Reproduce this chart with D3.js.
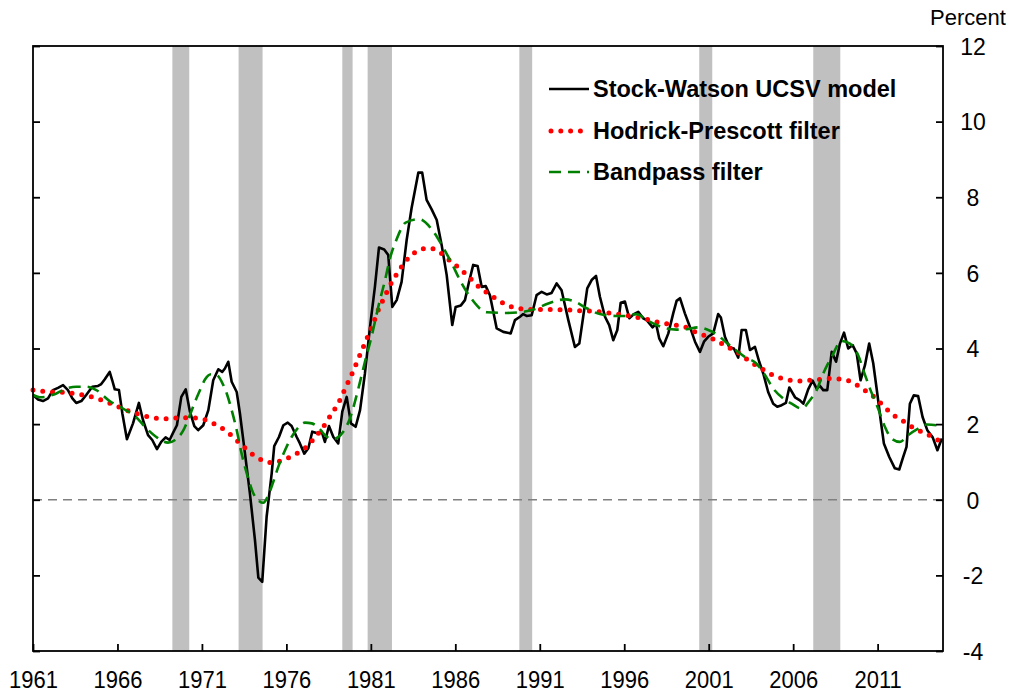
<!DOCTYPE html>
<html>
<head>
<meta charset="utf-8">
<script src="https://cdn.jsdelivr.net/npm/d3@7/dist/d3.min.js"></script>
<style>
  body { margin: 0; background: #fff; }
  svg text { font-family: "Liberation Sans", Arial, sans-serif; fill: #000; }
</style>
</head>
<body>
<svg id="chart" width="1013" height="694"></svg>
<script>
// ---- data ----
const ucsvYears = [1961.00,1961.30,1961.59,1961.89,1962.18,1962.48,1962.78,1963.07,1963.33,1963.56,1963.86,1964.15,1964.51,1964.85,1965.04,1965.24,1965.54,1965.69,1965.84,1966.09,1966.29,1966.56,1966.92,1967.27,1967.51,1967.81,1968.06,1968.34,1968.59,1968.85,1969.09,1969.29,1969.52,1969.78,1970.04,1970.29,1970.55,1970.78,1971.08,1971.38,1971.67,1971.97,1972.20,1972.36,1972.56,1972.76,1973.06,1973.25,1973.55,1973.84,1974.14,1974.34,1974.57,1974.83,1975.13,1975.28,1975.56,1975.82,1976.08,1976.31,1976.61,1976.80,1977.06,1977.30,1977.53,1977.89,1978.09,1978.28,1978.52,1978.78,1979.07,1979.31,1979.57,1979.82,1980.10,1980.36,1980.65,1980.95,1981.24,1981.48,1981.79,1982.03,1982.27,1982.53,1982.82,1983.12,1983.41,1983.81,1984.04,1984.30,1984.60,1984.90,1985.19,1985.49,1985.82,1986.02,1986.33,1986.57,1986.81,1987.06,1987.32,1987.56,1987.80,1988.05,1988.45,1988.84,1989.28,1989.53,1989.83,1990.02,1990.22,1990.52,1990.81,1991.11,1991.41,1991.70,1992.00,1992.29,1992.69,1993.08,1993.34,1993.57,1993.81,1994.07,1994.33,1994.56,1994.86,1995.11,1995.35,1995.59,1995.79,1996.04,1996.30,1996.57,1996.83,1997.12,1997.33,1997.68,1997.88,1998.07,1998.31,1998.61,1998.90,1999.10,1999.30,1999.59,1999.89,2000.19,2000.48,2000.72,2000.97,2001.27,2001.56,2001.72,2001.96,2002.22,2002.49,2002.75,2002.95,2003.20,2003.44,2003.74,2003.99,2004.23,2004.52,2004.82,2005.06,2005.32,2005.57,2005.77,2006.11,2006.40,2006.60,2006.89,2007.15,2007.39,2007.59,2007.78,2008.02,2008.28,2008.54,2008.77,2009.01,2009.26,2009.52,2009.76,2009.99,2010.25,2010.50,2010.74,2010.98,2011.18,2011.37,2011.69,2012.02,2012.28,2012.51,2012.71,2012.91,2013.14,2013.40,2013.66,2013.94,2014.26,2014.54,2014.80];
const ucsvValues = [2.77,2.65,2.61,2.68,2.90,2.96,3.03,2.90,2.68,2.56,2.61,2.77,2.99,3.01,3.06,3.18,3.38,3.16,2.92,2.90,2.28,1.60,2.02,2.56,2.11,1.71,1.58,1.34,1.53,1.65,1.58,1.77,1.97,2.72,2.92,2.33,1.95,1.84,1.97,2.37,3.16,3.45,3.38,3.47,3.65,3.12,2.85,2.28,1.22,0.17,-1.07,-2.06,-2.17,-0.45,0.70,1.42,1.66,1.97,2.04,1.95,1.66,1.49,1.22,1.36,1.80,1.75,1.80,1.53,1.95,1.66,1.49,2.33,2.72,2.02,1.93,2.37,3.34,4.57,5.63,6.67,6.62,6.47,5.10,5.28,5.76,6.87,7.71,8.65,8.65,7.93,7.68,7.40,6.74,5.94,4.62,5.10,5.14,5.28,5.76,6.21,6.18,5.63,5.65,5.41,4.53,4.44,4.40,4.75,4.84,4.91,4.86,4.88,5.41,5.50,5.43,5.47,5.72,5.54,4.75,4.04,4.13,4.84,5.59,5.81,5.92,5.37,4.84,4.62,4.22,4.49,5.21,5.24,4.80,4.91,4.97,4.80,4.75,4.56,4.66,4.27,4.06,4.40,4.93,5.26,5.33,4.93,4.57,4.18,3.91,4.18,4.31,4.40,4.91,4.82,4.31,4.03,4.00,3.76,4.49,4.49,3.96,4.04,3.65,3.34,2.85,2.54,2.46,2.50,2.56,2.97,2.71,2.63,2.54,2.92,3.15,2.94,3.01,2.90,2.90,3.91,3.65,4.13,4.42,4.00,4.09,3.87,3.16,3.56,4.13,3.61,2.81,2.11,1.49,1.13,0.83,0.80,1.13,1.40,2.54,2.76,2.74,2.19,1.84,1.65,1.31,1.62];

const hpYears = [1961.00,1961.63,1962.23,1962.82,1963.41,1963.96,1964.55,1965.10,1965.63,1966.17,1966.72,1967.27,1967.85,1968.44,1969.03,1969.62,1970.22,1970.78,1971.34,1971.87,1972.36,1972.86,1973.25,1973.65,1974.14,1974.67,1975.22,1975.78,1976.31,1976.86,1977.30,1977.69,1978.05,1978.38,1978.68,1979.01,1979.51,1979.76,1980.00,1980.22,1980.46,1980.69,1980.91,1981.14,1981.34,1981.58,1981.84,1982.09,1982.37,1982.68,1983.02,1983.42,1983.91,1984.50,1985.03,1985.52,1985.94,1986.38,1986.83,1987.26,1987.71,1988.15,1988.68,1989.19,1989.78,1990.38,1991.56,1992.74,1993.34,1993.93,1994.52,1995.05,1995.61,1996.20,1996.79,1997.38,1997.88,1998.47,1999.06,1999.65,2000.19,2000.72,2001.27,2001.77,2002.30,2002.81,2003.28,2003.78,2004.27,2004.78,2005.32,2005.87,2006.44,2007.03,2007.63,2008.18,2008.77,2009.32,2009.85,2010.38,2010.90,2011.43,2011.92,2012.42,2012.87,2013.40,2013.90,2014.39,2014.79];
const hpValues = [2.90,2.87,2.85,2.84,2.81,2.77,2.71,2.63,2.54,2.44,2.34,2.26,2.19,2.15,2.14,2.17,2.17,2.15,2.09,1.97,1.84,1.66,1.49,1.33,1.15,1.03,0.98,1.05,1.15,1.29,1.44,1.65,1.84,2.06,2.28,2.50,2.97,3.21,3.45,3.69,3.94,4.18,4.42,4.66,4.91,5.15,5.39,5.63,5.85,6.07,6.29,6.47,6.62,6.65,6.56,6.38,6.23,6.07,5.88,5.68,5.53,5.39,5.24,5.12,5.06,5.03,5.03,5.02,5.00,4.99,4.97,4.94,4.91,4.87,4.82,4.77,4.71,4.66,4.62,4.56,4.44,4.35,4.25,4.13,4.00,3.87,3.71,3.56,3.43,3.30,3.21,3.16,3.14,3.16,3.18,3.21,3.19,3.14,3.01,2.85,2.68,2.44,2.24,2.11,1.97,1.84,1.74,1.62,1.53];

const bpYears = [1961.00,1961.40,1962.28,1962.91,1963.56,1964.15,1964.75,1965.54,1966.37,1967.11,1967.67,1968.30,1968.99,1969.41,1969.88,1970.29,1970.59,1970.89,1971.18,1971.54,1971.87,1972.17,1972.47,1972.76,1973.06,1973.35,1973.71,1974.04,1974.38,1974.63,1974.93,1975.22,1975.52,1975.92,1976.31,1976.70,1977.10,1977.50,1977.89,1978.28,1978.68,1979.04,1979.43,1979.76,1980.26,1980.65,1981.05,1981.44,1981.84,1982.13,1982.51,1983.06,1983.85,1984.64,1985.23,1985.79,1986.33,1986.93,1987.86,1989.04,1990.02,1990.62,1991.50,1992.49,1993.08,1993.67,1994.56,1995.55,1996.14,1996.73,1997.33,1997.92,1998.51,1999.10,1999.69,2000.38,2000.97,2001.47,2002.06,2002.65,2003.20,2003.80,2004.33,2004.82,2005.41,2005.91,2006.50,2006.99,2007.39,2007.78,2008.28,2008.87,2009.36,2009.85,2010.19,2010.58,2011.03,2011.43,2011.82,2012.32,2012.81,2013.40,2013.90,2014.49,2014.79];
const bpValues = [2.77,2.71,2.79,2.93,2.99,2.99,2.90,2.61,2.40,2.18,1.91,1.66,1.51,1.58,1.82,2.24,2.59,2.90,3.18,3.32,3.30,3.12,2.81,2.37,1.84,1.22,0.61,0.17,-0.03,-0.08,0.12,0.47,0.87,1.31,1.66,1.91,2.04,2.02,1.91,1.71,1.60,1.65,1.84,2.15,2.94,3.65,4.33,5.10,5.81,6.38,6.87,7.33,7.42,7.13,6.71,6.25,5.76,5.33,4.96,4.94,4.97,5.03,5.19,5.30,5.24,5.09,4.91,4.86,4.86,4.91,4.75,4.62,4.53,4.50,4.51,4.56,4.49,4.38,4.15,3.94,3.76,3.61,3.30,2.94,2.68,2.54,2.41,2.63,2.90,3.34,3.78,4.20,4.13,3.82,3.38,2.90,2.41,1.93,1.62,1.53,1.71,1.88,1.99,1.97,1.93];

const recessionStart = [1969.25,1973.17,1979.31,1980.81,1989.79,2000.44,2007.19];
const recessionEnd   = [1970.25,1974.59,1979.92,1982.25,1990.55,2001.21,2008.79];

const xTickYears = [1961,1966,1971,1976,1981,1986,1991,1996,2001,2006,2011];
const yTickValues = [-4,-2,0,2,4,6,8,10,12];
const seriesNames = ["Stock-Watson UCSV model","Hodrick-Prescott filter","Bandpass filter"];

// ---- layout ----
const L = 33, R = 943, T = 46, B = 651;
const svg = d3.select("#chart");
const x = d3.scaleLinear().domain([1961, 2014.87]).range([L, R]);
const y = d3.scaleLinear().domain([-4, 12]).range([B, T]);

// recession bands
svg.append("g").selectAll("rect")
  .data(recessionStart.map((s, i) => [s, recessionEnd[i]]))
  .join("rect")
  .attr("x", d => x(d[0])).attr("width", d => x(d[1]) - x(d[0]))
  .attr("y", T).attr("height", B - T)
  .attr("fill", "#c0c0c0");

// zero line
svg.append("line")
  .attr("x1", L).attr("x2", R).attr("y1", y(0)).attr("y2", y(0))
  .attr("stroke", "#808080").attr("stroke-width", 1.6)
  .attr("stroke-dasharray", "9,6");

const mk = (ys, vs) => ys.map((yr, i) => [yr, vs[i]]);
const line = d3.line().x(d => x(d[0])).y(d => y(d[1]));

svg.append("path").datum(mk(ucsvYears, ucsvValues))
  .attr("d", line).attr("fill", "none").attr("stroke", "#000")
  .attr("stroke-width", 2.6).attr("stroke-linejoin", "round");

svg.append("path").datum(mk(hpYears, hpValues))
  .attr("d", d3.line().x(d => x(d[0])).y(d => y(d[1])).curve(d3.curveMonotoneX))
  .attr("fill", "none").attr("stroke", "#ff0000")
  .attr("stroke-width", 5).attr("stroke-linecap", "round")
  .attr("stroke-dasharray", "0,9.8");

svg.append("path").datum(mk(bpYears, bpValues))
  .attr("d", d3.line().x(d => x(d[0])).y(d => y(d[1])).curve(d3.curveMonotoneX))
  .attr("fill", "none").attr("stroke", "#008000")
  .attr("stroke-width", 2.6).attr("stroke-dasharray", "12,7");

// frame
svg.append("rect").attr("x", L).attr("y", T).attr("width", R - L).attr("height", B - T)
  .attr("fill", "none").attr("stroke", "#000").attr("stroke-width", 1.8);

// axes
const gb = svg.append("g").attr("transform", `translate(0,${B})`)
  .call(d3.axisBottom(x).tickValues(xTickYears).tickFormat(d => String(d)).tickSizeInner(-7).tickSizeOuter(0).tickPadding(19));
gb.select(".domain").remove();
gb.selectAll(".tick line").attr("stroke", "#000").attr("stroke-width", 1.8);
gb.selectAll(".tick text").attr("font-size", 22).attr("dy", "0.71em")
  .attr("transform", "scale(1,1.12)").attr("y", 17);

const gl = svg.append("g").attr("transform", `translate(${L},0)`)
  .call(d3.axisLeft(y).tickValues(yTickValues).tickFormat("").tickSizeInner(-7).tickSizeOuter(0));
gl.select(".domain").remove();
gl.selectAll(".tick line").attr("stroke", "#000").attr("stroke-width", 1.8);

const gr = svg.append("g").attr("transform", `translate(${R},0)`)
  .call(d3.axisRight(y).tickValues(yTickValues).tickFormat(d => String(d)).tickSizeInner(-7).tickSizeOuter(0));
gr.select(".domain").remove();
gr.selectAll(".tick line").attr("stroke", "#000").attr("stroke-width", 1.8);
gr.selectAll(".tick text").attr("font-size", 23).attr("x", 30).attr("text-anchor", "middle")
  .attr("dy", "0.36em");

svg.append("text").attr("x", 968).attr("y", 25).attr("text-anchor", "middle")
  .attr("font-size", 22).text("Percent");

// legend
const legY = [89, 131, 172];
const lg = svg.append("g");
const styles = [
  {stroke: "#000", w: 2.6, dash: null, cap: "butt"},
  {stroke: "#ff0000", w: 5, dash: "0,9.8", cap: "round"},
  {stroke: "#008000", w: 2.6, dash: "12,7", cap: "butt"}
];
seriesNames.forEach((name, i) => {
  const s = styles[i];
  const ln = lg.append("line").attr("x1", i === 1 ? 551 : 549).attr("x2", 589)
    .attr("y1", legY[i]).attr("y2", legY[i])
    .attr("stroke", s.stroke).attr("stroke-width", s.w).attr("stroke-linecap", s.cap);
  if (s.dash) ln.attr("stroke-dasharray", s.dash);
  lg.append("text").attr("x", 593).attr("y", legY[i]).attr("dy", "0.36em")
    .attr("font-size", 23.5).attr("font-weight", "bold").text(name);
});
</script>
</body>
</html>
